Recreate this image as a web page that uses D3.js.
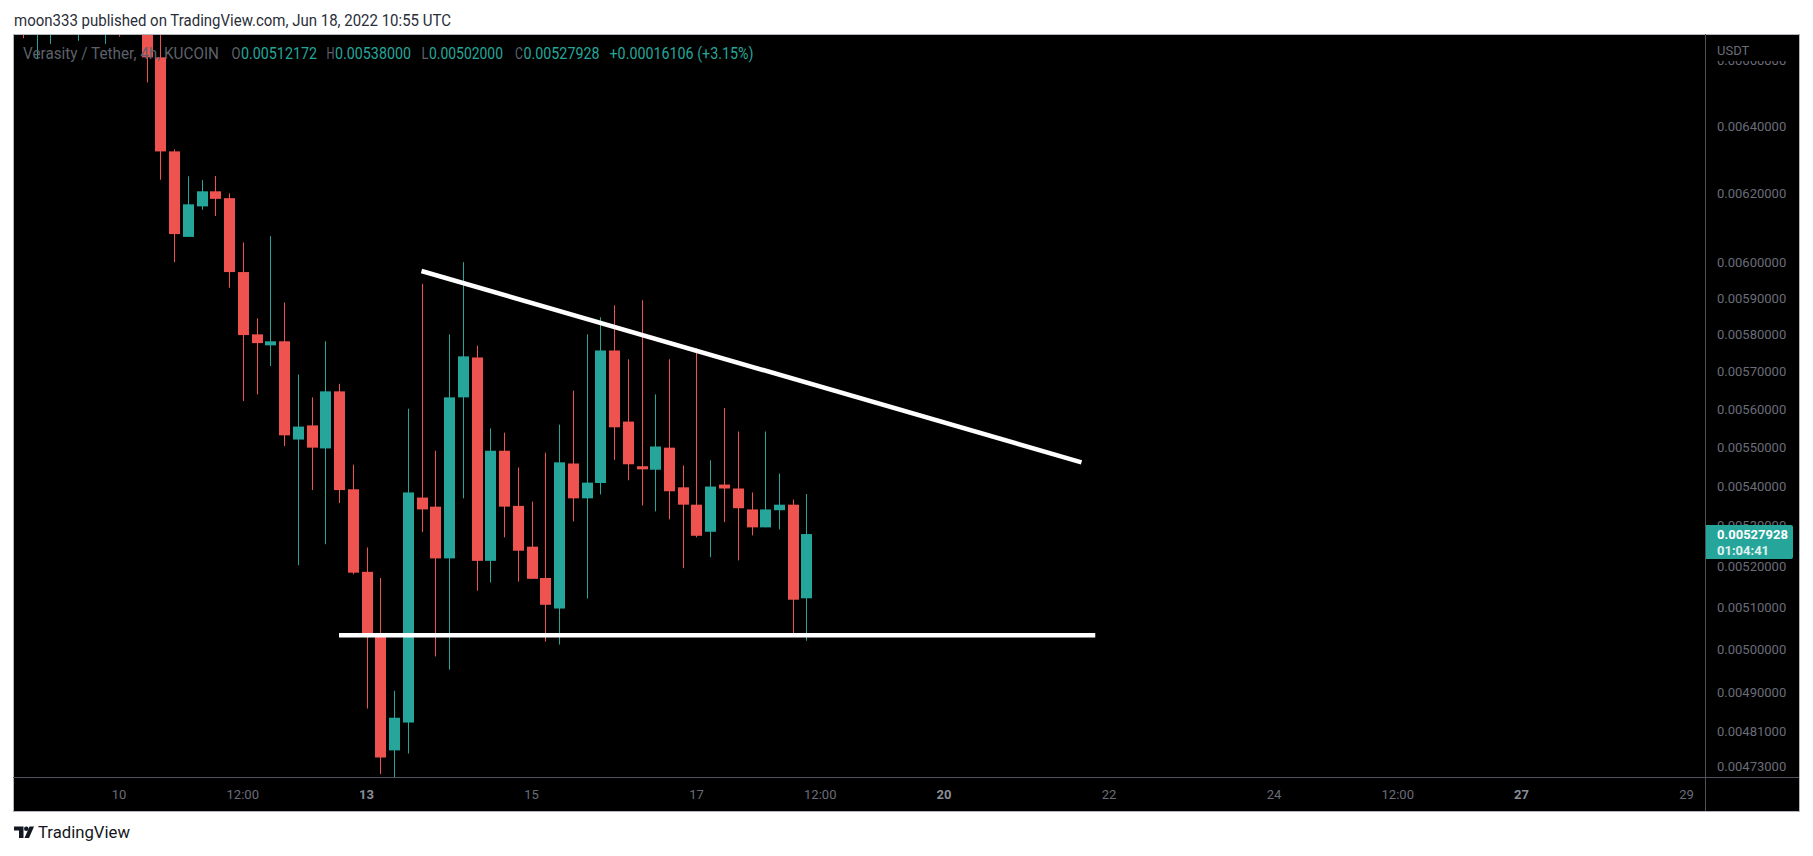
<!DOCTYPE html>
<html>
<head>
<meta charset="utf-8">
<title>Verasity / Tether, 4h, KUCOIN</title>
<script src="https://cdnjs.cloudflare.com/ajax/libs/d3/7.8.5/d3.min.js"></script>
<style>
  body { margin: 0; background: #fff; }
  svg { display: block; font-family: Roboto, "Noto Sans", sans-serif; }
  .narrow { font-family: "Liberation Sans Narrow", Roboto, sans-serif; }
</style>
</head>
<body>
<script>
// 4h bars, UTC open times
const barTimes = [
  "2022-06-08T20:00Z",
  "2022-06-09T00:00Z", "2022-06-09T04:00Z", "2022-06-09T08:00Z", "2022-06-09T12:00Z", "2022-06-09T16:00Z", "2022-06-09T20:00Z",
  "2022-06-10T00:00Z", "2022-06-10T04:00Z", "2022-06-10T08:00Z", "2022-06-10T12:00Z", "2022-06-10T16:00Z", "2022-06-10T20:00Z",
  "2022-06-11T00:00Z", "2022-06-11T04:00Z", "2022-06-11T08:00Z", "2022-06-11T12:00Z", "2022-06-11T16:00Z", "2022-06-11T20:00Z",
  "2022-06-12T00:00Z", "2022-06-12T04:00Z", "2022-06-12T08:00Z", "2022-06-12T12:00Z", "2022-06-12T16:00Z", "2022-06-12T20:00Z",
  "2022-06-13T00:00Z", "2022-06-13T04:00Z", "2022-06-13T08:00Z", "2022-06-13T12:00Z", "2022-06-13T16:00Z", "2022-06-13T20:00Z",
  "2022-06-14T00:00Z", "2022-06-14T04:00Z", "2022-06-14T08:00Z", "2022-06-14T12:00Z", "2022-06-14T16:00Z", "2022-06-14T20:00Z",
  "2022-06-15T00:00Z", "2022-06-15T04:00Z", "2022-06-15T08:00Z", "2022-06-15T12:00Z", "2022-06-15T16:00Z", "2022-06-15T20:00Z",
  "2022-06-16T00:00Z", "2022-06-16T04:00Z", "2022-06-16T08:00Z", "2022-06-16T12:00Z", "2022-06-16T16:00Z", "2022-06-16T20:00Z",
  "2022-06-17T00:00Z", "2022-06-17T04:00Z", "2022-06-17T08:00Z", "2022-06-17T12:00Z", "2022-06-17T16:00Z", "2022-06-17T20:00Z",
  "2022-06-18T00:00Z", "2022-06-18T04:00Z", "2022-06-18T08:00Z"
];
const opens = [
  0.00700, 0.00690, 0.00702, 0.00711, 0.00706, 0.00712, 0.00704, 0.00714, 0.00702,
  0.00692, 0.006611, 0.006324, 0.006074, 0.006162, 0.006206, 0.006186, 0.005974, 0.005801, 0.005771,
  0.005782, 0.005520, 0.005557, 0.005497, 0.005647, 0.005392, 0.005186, 0.005036, 0.004767, 0.004830,
  0.005371, 0.005348, 0.005219, 0.005631, 0.005738, 0.005213, 0.005491, 0.005350, 0.005248, 0.005171,
  0.005097, 0.005458, 0.005369, 0.005408, 0.005757, 0.005567, 0.005451, 0.005442, 0.005499, 0.005397,
  0.005353, 0.005285, 0.005404, 0.005394, 0.005341, 0.005296, 0.005339, 0.005353, 0.00512172
];
const highs = [
  0.00712, 0.00710, 0.00720, 0.00718, 0.00722, 0.00725, 0.00724, 0.00726, 0.00708,
  0.00698, 0.00672, 0.00633, 0.006250, 0.006239, 0.006251, 0.006200, 0.006058, 0.005845, 0.006076,
  0.005889, 0.005692, 0.005631, 0.005782, 0.005667, 0.005455, 0.005246, 0.005171, 0.004903, 0.005601,
  0.005941, 0.005491, 0.005801, 0.006002, 0.005770, 0.005549, 0.005538, 0.005448, 0.005361, 0.005486,
  0.005559, 0.005649, 0.005801, 0.005848, 0.005881, 0.005733, 0.005895, 0.005639, 0.005733, 0.005453,
  0.005763, 0.005466, 0.005603, 0.005541, 0.005384, 0.005541, 0.005432, 0.005366, 0.00538000
];
const lows = [
  0.006671, 0.006605, 0.006653, 0.00675, 0.006663, 0.00676, 0.006653, 0.006676, 0.00684,
  0.006533, 0.006240, 0.006002, 0.006074, 0.006152, 0.006134, 0.005930, 0.005621, 0.005639, 0.005715,
  0.005503, 0.005202, 0.005390, 0.005254, 0.005357, 0.005180, 0.004862, 0.004714, 0.004707, 0.004760,
  0.005284, 0.004983, 0.004952, 0.005369, 0.005140, 0.005160, 0.005271, 0.005162, 0.005169, 0.005018,
  0.005011, 0.005311, 0.005121, 0.005379, 0.005467, 0.005415, 0.005351, 0.005336, 0.005316, 0.005195,
  0.005271, 0.005222, 0.005309, 0.005214, 0.005276, 0.005296, 0.005291, 0.005030, 0.00502000
];
const closes = [
  0.00690, 0.00702, 0.00711, 0.00706, 0.00712, 0.00704, 0.00714, 0.00702, 0.00692,
  0.006611, 0.006324, 0.006082, 0.006168, 0.006206, 0.006184, 0.005974, 0.005799, 0.005777, 0.005782,
  0.005531, 0.005554, 0.005499, 0.005647, 0.005390, 0.005184, 0.005037, 0.004751, 0.004841, 0.005384,
  0.005341, 0.005219, 0.005631, 0.005741, 0.005213, 0.005491, 0.005348, 0.005238, 0.005169, 0.005106,
  0.005461, 0.005369, 0.005409, 0.005757, 0.005552, 0.005456, 0.005443, 0.005502, 0.005387, 0.005353,
  0.005275, 0.005399, 0.005394, 0.005344, 0.005296, 0.005341, 0.005353, 0.00511822, 0.00527928
];

const priceTicks = [0.0066, 0.0064, 0.0062, 0.0060, 0.0059, 0.0058, 0.0057, 0.0056, 0.0055,
  0.0054, 0.0053, 0.0052, 0.0051, 0.0050, 0.0049, 0.00481, 0.00473];
const timeTicks = ["2022-06-10T00:00Z", "2022-06-11T12:00Z", "2022-06-13T00:00Z", "2022-06-15T00:00Z",
  "2022-06-17T00:00Z", "2022-06-18T12:00Z", "2022-06-20T00:00Z", "2022-06-22T00:00Z",
  "2022-06-24T00:00Z", "2022-06-25T12:00Z", "2022-06-27T00:00Z", "2022-06-29T00:00Z"];
const timeTickLabels = ["10", "12:00", "13", "15", "17", "12:00", "20", "22", "24", "12:00", "27", "29"];
const weekStartLabels = ["13", "20", "27"];

// user drawn lines (time, price)
const resistanceTimes = ["2022-06-13T16:00Z", "2022-06-21T16:00Z"];
const resistancePrices = [0.005977, 0.005461];
const supportTimes = ["2022-06-12T16:00Z", "2022-06-21T20:00Z"];
const supportPrices = [0.005033, 0.005033];

const symbolName = "Verasity / Tether, 4h, KUCOIN";
const publishedText = "moon333 published on TradingView.com, Jun 18, 2022 10:55 UTC";
const countdown = "01:04:41";

const W = 1813, H = 856;
const pL = 13, pT = 34, pR = 1705, pB = 777, axisRight = 1799, timeBottom = 811;
const up = "#26a69a", down = "#ef5350";

const svg = d3.select("body").append("svg").attr("width", W).attr("height", H);

const x = d3.scaleUtc()
  .domain([new Date("2022-06-10T00:00Z"), new Date("2022-06-29T00:00Z")])
  .range([119, 1686.5]);
const y = d3.scaleLog()
  .domain([0.0047075, 0.006682])
  .range([pB, pT + 0.7]);

const defs = svg.append("defs");
defs.append("clipPath").attr("id", "plotClip")
  .append("rect").attr("x", pL + 1).attr("y", pT + 1).attr("width", pR - pL - 1).attr("height", pB - pT - 1);
defs.append("clipPath").attr("id", "axisClip")
  .append("rect").attr("x", pR + 1).attr("y", pT + 1).attr("width", axisRight - pR - 1).attr("height", pB - pT - 1);

// frame
svg.append("rect").attr("x", pL + 0.5).attr("y", pT + 0.5)
  .attr("width", axisRight - pL).attr("height", timeBottom - pT)
  .attr("fill", "#000").attr("stroke", "#b2b5be");
svg.append("line").attr("x1", pR + 0.5).attr("x2", pR + 0.5).attr("y1", pT).attr("y2", timeBottom)
  .attr("stroke", "#50535e");
svg.append("line").attr("x1", pL).attr("x2", axisRight).attr("y1", pB + 0.5).attr("y2", pB + 0.5)
  .attr("stroke", "#50535e");

// candles
const bars = barTimes.map((t, i) => ({ t: new Date(t), o: opens[i], h: highs[i], l: lows[i], c: closes[i] }));
const plot = svg.append("g").attr("clip-path", "url(#plotClip)");
const bar = plot.selectAll("g.bar").data(bars).join("g").attr("class", "bar");
bar.append("line")
  .attr("x1", d => Math.round(x(d.t)) + 0.5).attr("x2", d => Math.round(x(d.t)) + 0.5)
  .attr("y1", d => y(d.h)).attr("y2", d => y(d.l))
  .attr("stroke", d => d.c >= d.o ? up : down).attr("stroke-width", 1);
bar.append("rect")
  .attr("x", d => Math.round(x(d.t)) - 5).attr("width", 11)
  .attr("y", d => y(Math.max(d.o, d.c)))
  .attr("height", d => Math.max(1, Math.abs(y(d.o) - y(d.c))))
  .attr("fill", d => d.c >= d.o ? up : down);

// drawn lines
const line = d3.line().x(d => x(d[0])).y(d => y(d[1]));
[[resistanceTimes, resistancePrices], [supportTimes, supportPrices]].forEach(([ts, ps]) => {
  plot.append("path")
    .attr("d", line(ts.map((t, i) => [new Date(t), ps[i]])))
    .attr("fill", "none").attr("stroke", "#fff").attr("stroke-width", 4.5).attr("stroke-linecap", "butt");
});

// header
const hdr = svg.append("g").attr("class", "narrow").attr("font-size", 16.5);
const last = bars.length - 1;
const chg = closes[last] - closes[last - 1];
const pct = chg / closes[last - 1] * 100;
const valColor = closes[last] >= opens[last] ? up : down;
const gray = "#5d606b";
const hdrParts = [
  { s: symbolName, x: 23, w: 196, c: gray },
  { s: "O", x: 231.5, w: 9, c: gray }, { s: opens[last].toFixed(8), x: 241, w: 76, c: valColor },
  { s: "H", x: 326.5, w: 8, c: gray }, { s: highs[last].toFixed(8), x: 335, w: 76, c: valColor },
  { s: "L", x: 421.5, w: 7, c: gray }, { s: lows[last].toFixed(8), x: 429, w: 74, c: valColor },
  { s: "C", x: 515, w: 8, c: gray }, { s: closes[last].toFixed(8), x: 523.5, w: 76, c: valColor },
  { s: (chg >= 0 ? "+" : "") + chg.toFixed(8) + " (" + (pct >= 0 ? "+" : "") + pct.toFixed(2) + "%)", x: 609.5, w: 144, c: valColor }
];
hdrParts.forEach(p => {
  hdr.append("text").attr("x", p.x).attr("y", 58.5).attr("fill", p.c)
    .attr("textLength", p.w).attr("lengthAdjust", "spacingAndGlyphs").text(p.s);
});

// price axis
const axisG = svg.append("g").attr("clip-path", "url(#axisClip)").attr("font-size", 13).attr("fill", "#6a6d78");
axisG.selectAll("text.tick").data(priceTicks).join("text")
  .attr("class", "tick")
  .attr("x", 1717).attr("y", d => y(d)).attr("dy", "0.35em")
  .text(d => d.toFixed(8));
axisG.append("rect").attr("x", pR + 1).attr("y", pT + 1).attr("width", axisRight - pR - 1).attr("height", 26)
  .attr("fill", "#000");
axisG.append("text").attr("x", 1717).attr("y", 50).attr("dy", "0.35em").text("USDT");

// last price label
const yc = y(closes[last]);
axisG.append("path")
  .attr("d", `M${pR},${yc - 9}H${pR + 86}a2,2 0 0 1 2,2V${yc + 23}a2,2 0 0 1 -2,2H${pR}Z`)
  .attr("fill", valColor);
axisG.append("text").attr("x", 1717).attr("y", yc).attr("dy", "0.35em")
  .attr("fill", "#fff").attr("font-weight", "bold").text(closes[last].toFixed(8));
axisG.append("text").attr("x", 1717).attr("y", yc + 16).attr("dy", "0.35em")
  .attr("fill", "#e0f2f0").attr("font-weight", "bold").text(countdown);

// time axis
svg.append("g").attr("font-size", 13)
  .selectAll("text").data(timeTicks).join("text")
  .attr("x", d => x(new Date(d))).attr("y", 794).attr("dy", "0.35em")
  .attr("text-anchor", "middle")
  .attr("fill", (d, i) => weekStartLabels.includes(timeTickLabels[i]) ? "#8a8d97" : "#6a6d78")
  .attr("font-weight", (d, i) => weekStartLabels.includes(timeTickLabels[i]) ? "bold" : "normal")
  .text((d, i) => timeTickLabels[i]);

// page texts
svg.append("text").attr("class", "narrow").attr("x", 14).attr("y", 20).attr("dy", "0.35em").attr("font-size", 17)
  .attr("fill", "#2a2e39").attr("textLength", 437).attr("lengthAdjust", "spacingAndGlyphs")
  .text(publishedText);

const logo = svg.append("g").attr("fill", "#131722");
logo.append("path").attr("d", "M14,826.5h9.5v11.5h-4.5v-7.5h-5z");
logo.append("circle").attr("cx", 26.3).attr("cy", 828.8).attr("r", 2.3);
logo.append("path").attr("d", "M29.5,826.5h4.5l-5,11.5h-4.5z");
svg.append("text").attr("class", "narrow").attr("x", 38).attr("y", 832).attr("dy", "0.35em").attr("font-size", 17)
  .attr("fill", "#131722").attr("textLength", 92).attr("lengthAdjust", "spacingAndGlyphs")
  .text("TradingView");
</script>
</body>
</html>
